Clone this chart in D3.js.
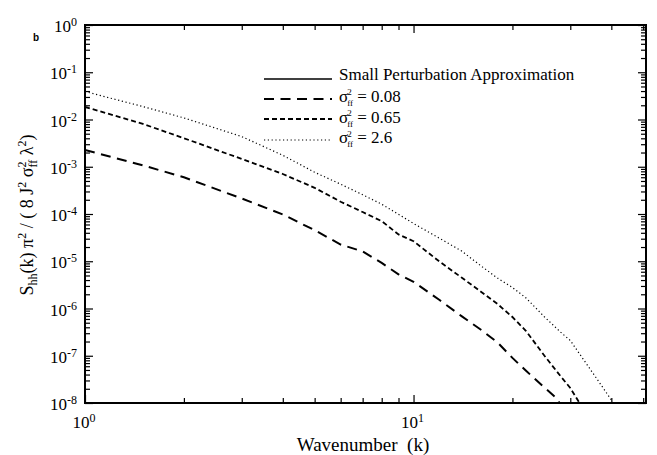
<!DOCTYPE html>
<html>
<head>
<meta charset="utf-8">
<script src="https://cdn.jsdelivr.net/npm/d3@7"></script>
<style>
  html, body { margin: 0; padding: 0; background: #fff; }
  svg { display: block; }
  text { font-family: "Liberation Serif", "Times New Roman", serif; fill: #000; }
</style>
</head>
<body>
<svg id="chart" width="657" height="455"></svg>
<script>
// ---- data ----
const seriesNames = ["Small Perturbation Approximation", "0.08", "0.65", "2.6"];

const k008 = [1, 1.5, 2, 3, 4, 5, 6, 7, 8, 9, 10, 12, 14, 16, 18, 20, 22, 25, 27, 28];
const v008 = [2.26e-3, 1.07e-3, 6.0e-4, 2.13e-4, 9.8e-5, 4.54e-5, 2.26e-5, 1.61e-5, 9.2e-6, 5.3e-6,
              3.67e-6, 1.51e-6, 6.9e-7, 3.6e-7, 1.92e-7, 9.0e-8, 4.8e-8, 2.14e-8, 1.34e-8, 9.5e-9];

const k065 = [1, 1.5, 2, 3, 4, 5, 6, 7, 8, 9, 10, 12, 14, 16, 18, 20, 22, 25, 28, 30, 32];
const v065 = [1.84e-2, 8.07e-3, 4.02e-3, 1.46e-3, 7.03e-4, 3.58e-4, 1.82e-4, 1.10e-4, 7.05e-5, 3.70e-5,
              2.66e-5, 9.8e-6, 4.53e-6, 2.29e-6, 1.25e-6, 6.6e-7, 3.34e-7, 1.01e-7, 3.72e-8, 2.08e-8, 1.0e-8];

const k26 = [1, 1.5, 2, 3, 4, 5, 6, 7, 8, 9, 10, 12, 14, 16, 18, 20, 22, 25, 28, 30, 33, 36, 40, 41];
const v26 = [3.91e-2, 1.88e-2, 1.08e-2, 4.35e-3, 1.75e-3, 7.64e-4, 4.28e-4, 2.56e-4, 1.61e-4, 9.86e-5,
             6.3e-5, 3.06e-5, 1.65e-5, 8.1e-6, 4.42e-6, 2.78e-6, 1.67e-6, 6.7e-7, 3.18e-7, 2.1e-7,
             8.1e-8, 3.38e-8, 1.16e-8, 8.5e-9];

const xTickExps = [0, 1];
const yTickExps = [0, -1, -2, -3, -4, -5, -6, -7, -8];

// ---- layout ----
const svg = d3.select("#chart");
const L = 85, R = 646, T = 25, B = 403;
const x = d3.scaleLog().domain([1, 51]).range([L, R]);
const y = d3.scaleLog().domain([1e-8, 1]).range([B, T]);

svg.append("defs").append("clipPath").attr("id", "clip")
  .append("rect").attr("x", L).attr("y", T).attr("width", R - L).attr("height", B - T);

const xMinor = [], xMajor = [];
for (let d = 1; d <= 10; d *= 10) for (let m = 1; m <= 9; m++) {
  const v = m * d; if (v > 51) continue; (m === 1 ? xMajor : xMinor).push(v);
}
const yMinor = [], yMajor = [];
for (let e = -8; e <= 0; e++) {
  yMajor.push(Math.pow(10, e));
  if (e < 0) for (let m = 2; m <= 9; m++) yMinor.push(m * Math.pow(10, e));
}

const axG = svg.append("g");
function drawAxis(gen, tx, ty) {
  const g = axG.append("g").attr("transform", `translate(${tx},${ty})`).call(gen);
  g.select(".domain").remove();
  g.selectAll("text").remove();
  g.selectAll("line").attr("stroke", "#000").attr("stroke-width", 1.2);
  return g;
}
drawAxis(d3.axisBottom(x).tickValues(xMajor).tickSize(-8), 0, B);
drawAxis(d3.axisBottom(x).tickValues(xMinor).tickSize(-5), 0, B);
drawAxis(d3.axisTop(x).tickValues(xMajor).tickSize(-8), 0, T);
drawAxis(d3.axisTop(x).tickValues(xMinor).tickSize(-5), 0, T);
drawAxis(d3.axisLeft(y).tickValues(yMajor).tickSize(-8), L, 0);
drawAxis(d3.axisLeft(y).tickValues(yMinor).tickSize(-5), L, 0);
drawAxis(d3.axisRight(y).tickValues(yMajor).tickSize(-8), R, 0);
drawAxis(d3.axisRight(y).tickValues(yMinor).tickSize(-5), R, 0);

svg.append("rect").attr("x", L).attr("y", T).attr("width", R - L).attr("height", B - T)
  .attr("fill", "none").attr("stroke", "#000").attr("stroke-width", 2);

// tick labels
const yl = svg.append("g");
yTickExps.forEach(e => {
  const t = yl.append("text").attr("x", 77).attr("y", y(Math.pow(10, e)) + 7)
    .attr("text-anchor", "end").style("font-size", "17px");
  t.append("tspan").text("10");
  t.append("tspan").attr("dy", -6).style("font-size", "12px").text(String(e));
});
xTickExps.forEach(e => {
  const t = svg.append("text").attr("x", x(Math.pow(10, e)) - 1).attr("y", 428)
    .attr("text-anchor", "middle").style("font-size", "17px");
  t.append("tspan").text("10");
  t.append("tspan").attr("dy", -6).style("font-size", "12px").text(String(e));
});

// axis titles
svg.append("text").attr("x", 363).attr("y", 451).attr("text-anchor", "middle")
  .style("font-size", "19px").style("white-space", "pre").text("Wavenumber  (k)");

const yt = svg.append("text").attr("transform", "translate(33,215) rotate(-90)")
  .attr("text-anchor", "middle").style("font-size", "18px").style("white-space", "pre");
const ys = [
  ["S", 0, 0, 18], ["hh", 0, 4, 12], ["(k) π", 0, -4, 18], ["2", 0, -7, 12],
  [" / ( 8 J", 0, 7, 18], ["2", 0, -7, 12], [" σ", 0, 7, 18], ["2", 0, -7, 12],
  ["ff", -6, 11, 12], [" λ", 0, -4, 18], ["2", 0, -7, 12], [")", 0, 7, 18]
];
ys.forEach(([s, dx, dy, fs]) => yt.append("tspan").attr("dx", dx).attr("dy", dy).style("font-size", fs + "px").text(s));

svg.append("text").attr("x", 33).attr("y", 41)
  .style("font-family", "'Liberation Sans', Arial, sans-serif").style("font-weight", "bold")
  .style("font-size", "10px").text("b");

// curves
const line = d3.line().x(d => x(d.k)).y(d => y(d.v));
const curves = [
  { k: k008, v: v008, dash: "10,6.5", w: 2 },
  { k: k065, v: v065, dash: "5,3", w: 1.8 },
  { k: k26,  v: v26,  dash: "1.2,2.6", w: 1.2 }
];
const cg = svg.append("g").attr("clip-path", "url(#clip)");
curves.forEach(c => {
  const pts = c.k.map((k, i) => ({ k, v: c.v[i] }));
  cg.append("path").datum(pts).attr("d", line).attr("fill", "none")
    .attr("stroke", "#000").attr("stroke-width", c.w).attr("stroke-dasharray", c.dash);
});

// legend
const lg = svg.append("g");
const styles = [
  { dash: null, w: 1.6, ly: 79, ty: 80 },
  { dash: "10,6.5", w: 2, ly: 99, ty: 101.5 },
  { dash: "5,3", w: 1.8, ly: 119, ty: 122.5 },
  { dash: "1.2,2.6", w: 1.2, ly: 140, ty: 143 }
];
styles.forEach((s, i) => {
  const l = lg.append("line").attr("x1", 264).attr("x2", 332).attr("y1", s.ly).attr("y2", s.ly)
    .attr("stroke", "#000").attr("stroke-width", s.w);
  if (s.dash) l.attr("stroke-dasharray", s.dash);
  const t = lg.append("text").attr("x", 339).attr("y", s.ty).style("font-size", "17px");
  if (i === 0) { t.text(seriesNames[0]); return; }
  t.append("tspan").text("σ");
  t.append("tspan").attr("dy", -6.5).attr("dx", -1).style("font-size", "9px").text("2");
  t.append("tspan").attr("dy", 10.5).attr("dx", -4.5).style("font-size", "9px").text("ff");
  t.append("tspan").attr("dy", -4).text(" = " + seriesNames[i]);
});
</script>
</body>
</html>
